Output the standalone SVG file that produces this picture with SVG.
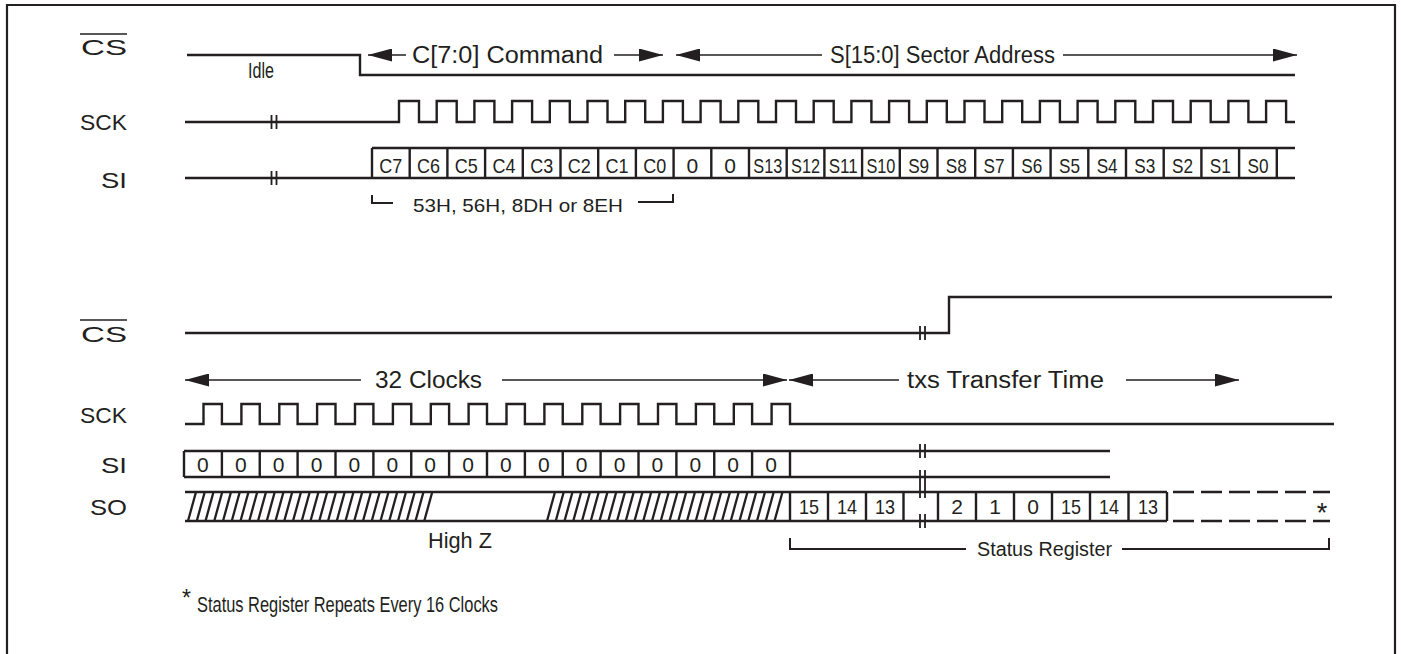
<svg xmlns="http://www.w3.org/2000/svg" width="1401" height="654" viewBox="0 0 1401 654">
<style>
.sig{fill:none;stroke:#231f20;stroke-width:2.4;stroke-linejoin:miter}
.thin{fill:none;stroke:#231f20;stroke-width:1.3}
.brk{fill:none;stroke:#231f20;stroke-width:1.8}
.hatch{fill:none;stroke:#231f20;stroke-width:2.3}
.dash{fill:none;stroke:#231f20;stroke-width:2.4;stroke-dasharray:21 7}
text{font-family:"Liberation Sans",Arial,Helvetica,sans-serif;fill:#231f20}
.lbl{font-size:22px;text-anchor:end}
.ann{font-size:23px}
.cell{font-size:21px;text-anchor:middle}
</style>
<defs>
<marker id="ah" viewBox="0 0 24 13" refX="24" refY="6.5" markerWidth="24" markerHeight="13" markerUnits="userSpaceOnUse" orient="auto-start-reverse">
<path d="M0,0 L24,6.5 L0,13 z" fill="#231f20"/>
</marker>
</defs>
<rect width="1401" height="654" fill="#ffffff"/>
<path d="M7,660 V5 H1395 V660" fill="none" stroke="#231f20" stroke-width="2.2"/>

<!-- labels -->
<g id="labels">
<text class="lbl" x="127" y="55" textLength="46" lengthAdjust="spacingAndGlyphs">CS</text>
<line x1="80" y1="34" x2="127" y2="34" stroke="#231f20" stroke-width="1.3"/>
<text class="lbl" x="127" y="130" textLength="47" lengthAdjust="spacingAndGlyphs">SCK</text>
<text class="lbl" x="127" y="188" textLength="26" lengthAdjust="spacingAndGlyphs">SI</text>
<text class="lbl" x="127" y="342" textLength="46" lengthAdjust="spacingAndGlyphs">CS</text>
<line x1="80" y1="320" x2="127" y2="320" stroke="#231f20" stroke-width="1.3"/>
<text class="lbl" x="127" y="423" textLength="47" lengthAdjust="spacingAndGlyphs">SCK</text>
<text class="lbl" x="127" y="473" textLength="26" lengthAdjust="spacingAndGlyphs">SI</text>
<text class="lbl" x="127" y="515" textLength="37" lengthAdjust="spacingAndGlyphs">SO</text>
</g>

<!-- top CS -->
<g id="cs-top">
<path class="sig" d="M187,55 H360 V75 H1295"/>
<text x="248" y="78" font-size="22" textLength="26" lengthAdjust="spacingAndGlyphs">Idle</text>
</g>

<!-- top SCK -->
<g id="sck-top">
<path class="sig" d="M185,122 H399 V101 H419 V122 H436.7 V101 H456.7 V122 H474.4 V101 H494.4 V122 H512.1 V101 H532.1 V122 H549.8 V101 H569.8 V122 H587.5 V101 H607.5 V122 H625.2 V101 H645.2 V122 H662.9 V101 H682.9 V122 H700.6 V101 H720.6 V122 H738.3 V101 H758.3 V122 H776 V101 H796 V122 H813.7 V101 H833.7 V122 H851.4 V101 H871.4 V122 H889.1 V101 H909.1 V122 H926.8 V101 H946.8 V122 H964.5 V101 H984.5 V122 H1002.2 V101 H1022.2 V122 H1039.9 V101 H1059.9 V122 H1077.6 V101 H1097.6 V122 H1115.3 V101 H1135.3 V122 H1153 V101 H1173 V122 H1190.7 V101 H1210.7 V122 H1228.4 V101 H1248.4 V122 H1266.1 V101 H1286.1 V122 H1295"/>
<path class="brk" d="M271.5,115 V129 M276.5,115 V129"/>
</g>

<!-- top SI -->
<g id="si-top">
<path class="sig" d="M185,178 H1295 M372,148 H1295"/>
<path class="sig" d="M372,148 V178 M409.7,148 V178 M447.4,148 V178 M485.1,148 V178 M522.8,148 V178 M560.5,148 V178 M598.2,148 V178 M635.9,148 V178 M673.6,148 V178 M711.3,148 V178 M749,148 V178 M786.7,148 V178 M824.4,148 V178 M862.1,148 V178 M899.8,148 V178 M937.5,148 V178 M975.2,148 V178 M1012.9,148 V178 M1050.6,148 V178 M1088.3,148 V178 M1126,148 V178 M1163.7,148 V178 M1201.4,148 V178 M1239.1,148 V178 M1276.8,148 V178"/>
<path class="brk" d="M271.5,171 V185 M276.5,171 V185"/>
<text class="cell" x="390.85" y="173" textLength="23" lengthAdjust="spacingAndGlyphs">C7</text>
<text class="cell" x="428.55" y="173" textLength="23" lengthAdjust="spacingAndGlyphs">C6</text>
<text class="cell" x="466.25" y="173" textLength="23" lengthAdjust="spacingAndGlyphs">C5</text>
<text class="cell" x="503.95" y="173" textLength="23" lengthAdjust="spacingAndGlyphs">C4</text>
<text class="cell" x="541.65" y="173" textLength="23" lengthAdjust="spacingAndGlyphs">C3</text>
<text class="cell" x="579.35" y="173" textLength="23" lengthAdjust="spacingAndGlyphs">C2</text>
<text class="cell" x="617.05" y="173" textLength="23" lengthAdjust="spacingAndGlyphs">C1</text>
<text class="cell" x="654.75" y="173" textLength="23" lengthAdjust="spacingAndGlyphs">C0</text>
<text class="cell" x="692.45" y="173">0</text>
<text class="cell" x="730.15" y="173">0</text>
<text class="cell" x="767.85" y="173" textLength="29" lengthAdjust="spacingAndGlyphs">S13</text>
<text class="cell" x="805.55" y="173" textLength="29" lengthAdjust="spacingAndGlyphs">S12</text>
<text class="cell" x="843.25" y="173" textLength="29" lengthAdjust="spacingAndGlyphs">S11</text>
<text class="cell" x="880.95" y="173" textLength="29" lengthAdjust="spacingAndGlyphs">S10</text>
<text class="cell" x="918.65" y="173" textLength="21" lengthAdjust="spacingAndGlyphs">S9</text>
<text class="cell" x="956.35" y="173" textLength="21" lengthAdjust="spacingAndGlyphs">S8</text>
<text class="cell" x="994.05" y="173" textLength="21" lengthAdjust="spacingAndGlyphs">S7</text>
<text class="cell" x="1031.75" y="173" textLength="21" lengthAdjust="spacingAndGlyphs">S6</text>
<text class="cell" x="1069.45" y="173" textLength="21" lengthAdjust="spacingAndGlyphs">S5</text>
<text class="cell" x="1107.15" y="173" textLength="21" lengthAdjust="spacingAndGlyphs">S4</text>
<text class="cell" x="1144.85" y="173" textLength="21" lengthAdjust="spacingAndGlyphs">S3</text>
<text class="cell" x="1182.55" y="173" textLength="21" lengthAdjust="spacingAndGlyphs">S2</text>
<text class="cell" x="1220.25" y="173" textLength="21" lengthAdjust="spacingAndGlyphs">S1</text>
<text class="cell" x="1257.95" y="173" textLength="21" lengthAdjust="spacingAndGlyphs">S0</text>
</g>

<!-- bottom CS -->
<g id="cs-bot">
<path class="sig" d="M185,333 H949 V297 H1332"/>
<path class="brk" d="M920,326 V340 M925,326 V340"/>
</g>

<!-- bottom SCK -->
<g id="sck-bot">
<path class="sig" d="M185,424 H203.5 V404 H221.9 V424 H241.4 V404 H259.75 V424 H279.3 V404 H297.6 V424 H317.1 V404 H335.5 V424 H355 V404 H373.4 V424 H392.9 V404 H411.25 V424 H430.8 V404 H449.1 V424 H468.6 V404 H487 V424 H506.5 V404 H524.9 V424 H544.4 V404 H562.75 V424 H582.3 V404 H600.6 V424 H620.1 V404 H638.5 V424 H658 V404 H676.4 V424 H695.9 V404 H714.25 V424 H733.8 V404 H752.1 V424 H771.6 V404 H790 V424 H1334"/>
</g>

<!-- bottom SI -->
<g id="si-bot">
<path class="sig" d="M184,451 H1110 M184,477 H1110"/>
<path class="sig" d="M184,451 V477 M221.9,451 V477 M259.75,451 V477 M297.6,451 V477 M335.5,451 V477 M373.4,451 V477 M411.25,451 V477 M449.1,451 V477 M487,451 V477 M524.9,451 V477 M562.75,451 V477 M600.6,451 V477 M638.5,451 V477 M676.4,451 V477 M714.25,451 V477 M752.1,451 V477 M790,451 V477"/>
<path class="brk" d="M920,444 V458 M925,444 V458 M920,470 V484 M925,470 V484"/>
<text class="cell" x="202.9" y="472">0</text>
<text class="cell" x="240.8" y="472">0</text>
<text class="cell" x="278.7" y="472">0</text>
<text class="cell" x="316.6" y="472">0</text>
<text class="cell" x="354.4" y="472">0</text>
<text class="cell" x="392.3" y="472">0</text>
<text class="cell" x="430.2" y="472">0</text>
<text class="cell" x="468.1" y="472">0</text>
<text class="cell" x="505.9" y="472">0</text>
<text class="cell" x="543.8" y="472">0</text>
<text class="cell" x="581.7" y="472">0</text>
<text class="cell" x="619.6" y="472">0</text>
<text class="cell" x="657.4" y="472">0</text>
<text class="cell" x="695.3" y="472">0</text>
<text class="cell" x="733.2" y="472">0</text>
<text class="cell" x="771.1" y="472">0</text>
</g>

<!-- bottom SO -->
<g id="so-bot">
<path class="sig" d="M185,492 H1167 M185,521 H1167"/>
<path class="dash" d="M1173,492 H1330 M1173,521 H1330"/>
<path class="hatch" d="M188,521 L196,492 M196.75,521 L204.75,492 M205.5,521 L213.5,492 M214.25,521 L222.25,492 M223,521 L231,492 M231.75,521 L239.75,492 M240.5,521 L248.5,492 M249.25,521 L257.25,492 M258,521 L266,492 M266.75,521 L274.75,492 M275.5,521 L283.5,492 M284.25,521 L292.25,492 M293,521 L301,492 M301.75,521 L309.75,492 M310.5,521 L318.5,492 M319.25,521 L327.25,492 M328,521 L336,492 M336.75,521 L344.75,492 M345.5,521 L353.5,492 M354.25,521 L362.25,492 M363,521 L371,492 M371.75,521 L379.75,492 M380.5,521 L388.5,492 M389.25,521 L397.25,492 M398,521 L406,492 M406.75,521 L414.75,492 M415.5,521 L423.5,492 M424.25,521 L432.25,492"/>
<path class="hatch" d="M547,521 L555,492 M555.75,521 L563.75,492 M564.5,521 L572.5,492 M573.25,521 L581.25,492 M582,521 L590,492 M590.75,521 L598.75,492 M599.5,521 L607.5,492 M608.25,521 L616.25,492 M617,521 L625,492 M625.75,521 L633.75,492 M634.5,521 L642.5,492 M643.25,521 L651.25,492 M652,521 L660,492 M660.75,521 L668.75,492 M669.5,521 L677.5,492 M678.25,521 L686.25,492 M687,521 L695,492 M695.75,521 L703.75,492 M704.5,521 L712.5,492 M713.25,521 L721.25,492 M722,521 L730,492 M730.75,521 L738.75,492 M739.5,521 L747.5,492 M748.25,521 L756.25,492 M757,521 L765,492 M765.75,521 L773.75,492 M774.5,521 L782.5,492"/>
<path class="sig" d="M790,492 V521 M828,492 V521 M866,492 V521 M903.5,492 V521 M938,492 V521 M976,492 V521 M1014,492 V521 M1052,492 V521 M1090,492 V521 M1128.5,492 V521 M1167,492 V521"/>
<path class="brk" d="M920,484 V498 M925,484 V498 M920,514 V528 M925,514 V528"/>
<text class="cell" x="809" y="514" textLength="20" lengthAdjust="spacingAndGlyphs">15</text>
<text class="cell" x="847" y="514" textLength="20" lengthAdjust="spacingAndGlyphs">14</text>
<text class="cell" x="885" y="514" textLength="20" lengthAdjust="spacingAndGlyphs">13</text>
<text class="cell" x="957" y="514">2</text>
<text class="cell" x="995" y="514">1</text>
<text class="cell" x="1033" y="514">0</text>
<text class="cell" x="1071" y="514" textLength="20" lengthAdjust="spacingAndGlyphs">15</text>
<text class="cell" x="1109" y="514" textLength="20" lengthAdjust="spacingAndGlyphs">14</text>
<text class="cell" x="1148" y="514" textLength="20" lengthAdjust="spacingAndGlyphs">13</text>
<text x="1322" y="522" font-size="27" text-anchor="middle">*</text>
<text x="428" y="548" font-size="22" textLength="64" lengthAdjust="spacingAndGlyphs">High Z</text>
</g>

<!-- connectors: dimension arrows and brackets -->
<g id="connectors">
<line class="thin" x1="368" y1="55" x2="406" y2="55" marker-start="url(#ah)"/>
<line class="thin" x1="614" y1="55" x2="663" y2="55" marker-end="url(#ah)"/>
<line class="thin" x1="676" y1="55" x2="822" y2="55" marker-start="url(#ah)"/>
<line class="thin" x1="1063" y1="55" x2="1297" y2="55" marker-end="url(#ah)"/>
<path class="sig" d="M372,195 V203 H393" style="stroke-width:2"/>
<path class="sig" d="M638,202 H673 V194" style="stroke-width:2"/>
<line class="thin" x1="185" y1="380" x2="361" y2="380" marker-start="url(#ah)"/>
<line class="thin" x1="502" y1="380" x2="787" y2="380" marker-end="url(#ah)"/>
<line class="thin" x1="789" y1="380" x2="899" y2="380" marker-start="url(#ah)"/>
<line class="thin" x1="1126" y1="380" x2="1239" y2="380" marker-end="url(#ah)"/>
<path class="sig" d="M790,538 V549 H966" style="stroke-width:2"/>
<path class="sig" d="M1122,549 H1329 V538" style="stroke-width:2"/>
</g>

<g id="annotations">
<text class="ann" x="412" y="63" textLength="191" lengthAdjust="spacingAndGlyphs">C[7:0] Command</text>
<text class="ann" x="830" y="63" textLength="225" lengthAdjust="spacingAndGlyphs">S[15:0] Sector Address</text>
<text x="413" y="212" font-size="19" textLength="210" lengthAdjust="spacingAndGlyphs">53H, 56H, 8DH or 8EH</text>
<text class="ann" x="375" y="388" textLength="107" lengthAdjust="spacingAndGlyphs">32 Clocks</text>
<text class="ann" x="907" y="388" textLength="197" lengthAdjust="spacingAndGlyphs">txs Transfer Time</text>
<text x="977" y="556" font-size="20" textLength="135" lengthAdjust="spacingAndGlyphs">Status Register</text>
<text x="182" y="606" font-size="23">*</text>
<text x="197" y="612" font-size="22" textLength="301" lengthAdjust="spacingAndGlyphs">Status Register Repeats Every 16 Clocks</text>
</g>
</svg>
